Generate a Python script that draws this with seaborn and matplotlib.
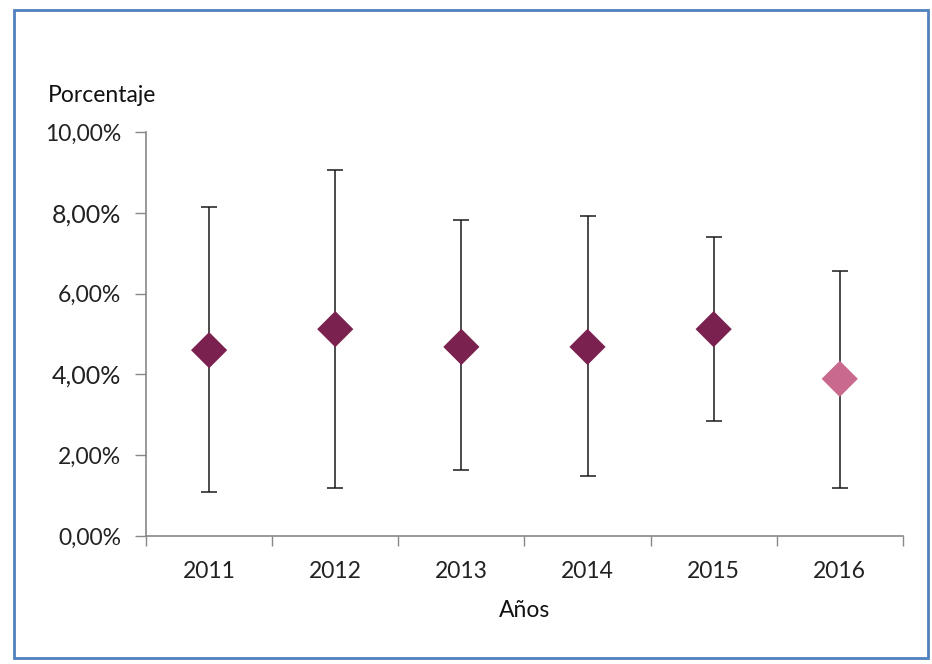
import matplotlib
matplotlib.use("Agg")
import matplotlib.pyplot as plt
import seaborn as sns
import pandas as pd
from matplotlib.patches import Rectangle
from matplotlib.ticker import FixedLocator, FuncFormatter

years = ["2011", "2012", "2013", "2014", "2015", "2016"]
values = [4.60, 5.12, 4.68, 4.68, 5.12, 3.89]
upper = [8.14, 9.06, 7.82, 7.92, 7.40, 6.56]
lower = [1.09, 1.19, 1.63, 1.49, 2.85, 1.19]
groups = ["past", "past", "past", "past", "past", "current"]
yticks = [0, 2, 4, 6, 8, 10]

df = pd.DataFrame({"year": years, "value": values, "upper": upper,
                   "lower": lower, "group": groups})
df["pos"] = range(len(df))

sns.set_style("white")
plt.rcParams["font.family"] = ["Lato", "DejaVu Sans"]

fig = plt.figure(figsize=(9.32, 6.64), dpi=100)
ax = fig.add_axes([0.1567, 0.1928, 0.812, 0.6084])

ax.errorbar(df["pos"], df["value"],
            yerr=[df["value"] - df["lower"], df["upper"] - df["value"]],
            fmt="none", ecolor="#1a1a1a", elinewidth=1.1, capsize=5.5,
            capthick=1.1, zorder=2)
sns.scatterplot(data=df, x="pos", y="value", hue="group",
                palette={"past": "#7B2150", "current": "#C9698D"},
                marker="D", s=340, edgecolor="none", legend=False,
                ax=ax, zorder=3)

ax.set_xlim(-0.5, len(years) - 0.5)
ax.set_ylim(0, 10)
ax.xaxis.set_major_locator(FixedLocator([i - 0.5 for i in range(len(years) + 1)]))
ax.xaxis.set_major_formatter(FuncFormatter(lambda v, p: ""))
ax.set_xticks(range(len(years)), minor=True)
ax.set_xticklabels(years, minor=True)
ax.tick_params(axis="x", which="minor", length=0, labelsize=16.5, pad=18,
               colors="#222222")
ax.tick_params(axis="x", which="major", length=7, width=1, color="#888888",
               direction="out", bottom=True)
ax.set_yticks(yticks)
ax.set_yticklabels([f"{t:.2f}".replace(".", ",") + "%" for t in yticks])
ax.tick_params(axis="y", length=8, width=1, color="#888888", direction="out",
               left=True, labelsize=16.5, labelcolor="#222222", pad=10)
for lbl in ax.get_yticklabels():
    if lbl.get_text() in ("8,00%", "4,00%"):
        lbl.set_fontsize(18)

for s in ("top", "right"):
    ax.spines[s].set_visible(False)
for s in ("left", "bottom"):
    ax.spines[s].set_color("#888888")
    ax.spines[s].set_linewidth(1.2)

ax.set_xlabel("Años", fontsize=16.5, color="#111111", labelpad=13)
ax.set_ylabel("")
fig.text(48 / 932, 1 - 96 / 664, "Porcentaje", fontsize=16.5, color="#111111",
         ha="left", va="center")

fig.patches.append(Rectangle((14 / 932, 6 / 664), (928 - 14) / 932,
                             (656 - 8) / 664, transform=fig.transFigure,
                             fill=False, edgecolor="#4F81BD", linewidth=2))

fig.savefig("out.png", dpi=100)
